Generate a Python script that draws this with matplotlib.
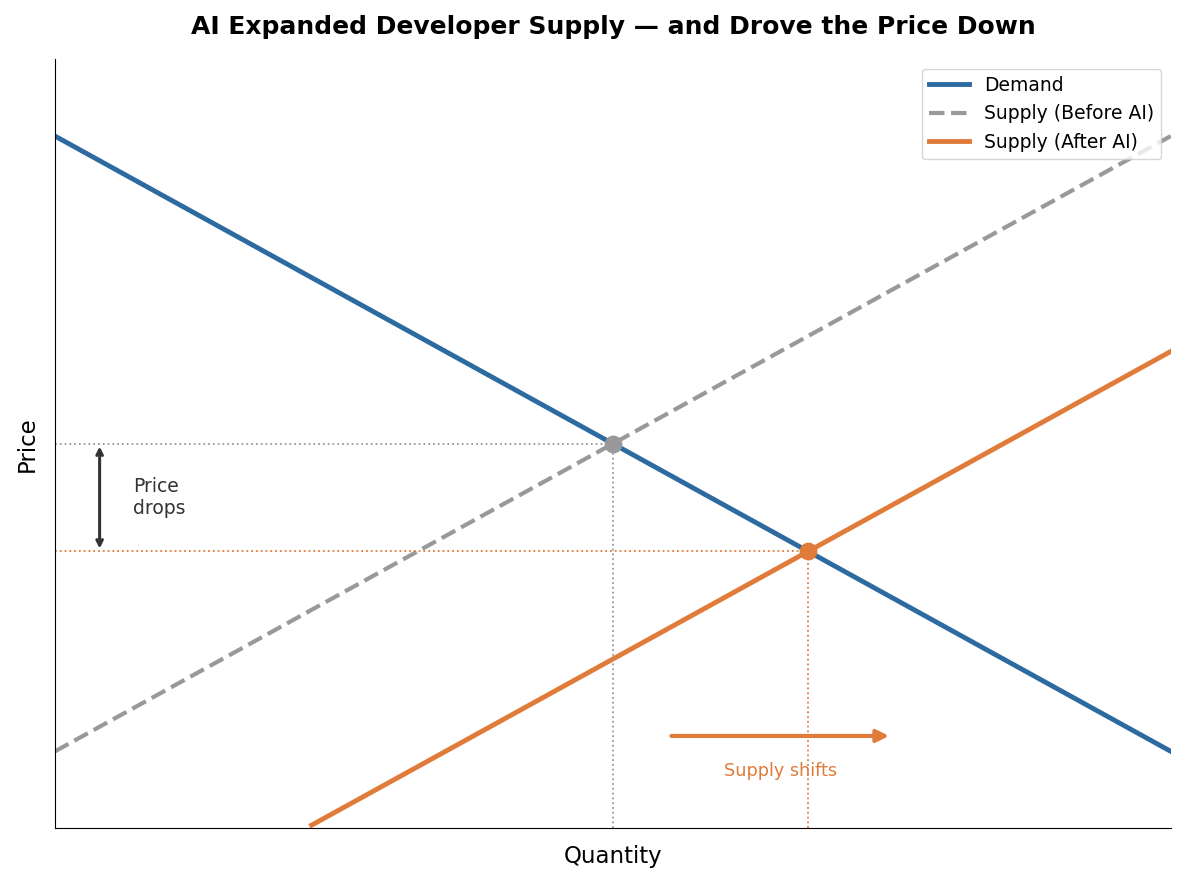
import numpy as np
import matplotlib.pyplot as plt

# data
q = np.array([0, 10])
demand = np.array([9, 1])
supply_before = np.array([1, 9])
q_after = np.array([2.3, 10])
supply_after = np.array([0.04, 6.2])

eq_before = (5, 5)
eq_after = (6.75, 3.6)

c_blue = '#2c6aa0'
c_gray = '#999999'
c_orange = '#e07b39'

fig, ax = plt.subplots(figsize=(11.85, 8.83), dpi=100)

ax.plot(q, demand, color=c_blue, lw=3.5, label='Demand')
ax.plot(q, supply_before, color=c_gray, lw=3, ls='--', label='Supply (Before AI)')
ax.plot(q_after, supply_after, color=c_orange, lw=3.5, label='Supply (After AI)')

# equilibrium guides
ax.plot([0, eq_before[0]], [eq_before[1]] * 2, color=c_gray, lw=1.3, ls=':')
ax.plot([eq_before[0]] * 2, [0, eq_before[1]], color=c_gray, lw=1.3, ls=':')
ax.plot([0, eq_after[0]], [eq_after[1]] * 2, color=c_orange, lw=1.3, ls=':')
ax.plot([eq_after[0]] * 2, [0, eq_after[1]], color=c_orange, lw=1.3, ls=':')

ax.scatter(*eq_before, s=140, color=c_gray, zorder=5)
ax.scatter(*eq_after, s=140, color=c_orange, zorder=5)

# annotations
ax.annotate('', xy=(0.4, eq_after[1]), xytext=(0.4, eq_before[1]),
            arrowprops=dict(arrowstyle='<->', color='#333333', lw=2.2))
ax.text(0.7, 4.3, 'Price\ndrops', fontsize=13.5, color='#333333', va='center')

ax.annotate('', xy=(7.5, 1.2), xytext=(5.5, 1.2),
            arrowprops=dict(arrowstyle='-|>', color=c_orange, lw=3,
                            mutation_scale=18, capstyle='round'))
ax.text(6.5, 0.75, 'Supply shifts', fontsize=12.7, color=c_orange, ha='center', va='center')

ax.set_xlim(0, 10)
ax.set_ylim(0, 10)
ax.set_xticks([])
ax.set_yticks([])
ax.spines['top'].set_visible(False)
ax.spines['right'].set_visible(False)
ax.set_xlabel('Quantity', fontsize=16.5, labelpad=12)
ax.set_ylabel('Price', fontsize=16.5, labelpad=12)
ax.set_title('AI Expanded Developer Supply — and Drove the Price Down',
             fontsize=18, fontweight='bold', pad=18)
ax.legend(loc='upper right', fontsize=13.5, handlelength=2.1)

plt.subplots_adjust(left=0.0464, right=0.988, top=0.933, bottom=0.062)
plt.savefig('out.png')
